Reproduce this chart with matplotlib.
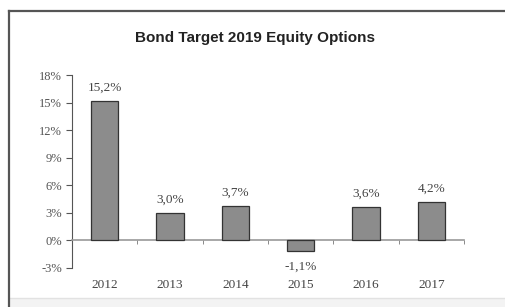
import matplotlib
matplotlib.use('Agg')
import matplotlib.pyplot as plt
from matplotlib.lines import Line2D
from matplotlib.patches import Rectangle

years = ['2012', '2013', '2014', '2015', '2016', '2017']
returns = [15.2, 3.0, 3.7, -1.1, 3.6, 4.2]
yticks = [-3, 0, 3, 6, 9, 12, 15, 18]

W, H = 506, 307
fig = plt.figure(figsize=(W / 100, H / 100), dpi=100)
fig.patch.set_facecolor('white')

# outer chart frame: top and left edges, faint strip at the bottom
ftop = 1 - 10.5 / H
fleft = 9 / W
fig.add_artist(Rectangle((fleft, 0), 1 - fleft, 9 / H, transform=fig.transFigure,
                         facecolor='#f3f3f3', edgecolor='none'))
fig.add_artist(Line2D([fleft, 1.0], [9 / H, 9 / H], transform=fig.transFigure, color='#e2e2e2', lw=1.0))
fig.add_artist(Line2D([fleft, 1.0], [ftop, ftop], transform=fig.transFigure, color='#555555', lw=1.6))
fig.add_artist(Line2D([fleft, fleft], [0.0, ftop], transform=fig.transFigure, color='#555555', lw=1.6))

ax = fig.add_axes([72 / W, 1 - 268 / H, 392 / W, 193 / H])
x = list(range(len(years)))
ax.bar(x, returns, width=0.42, color='#8c8c8c', edgecolor='#333333', linewidth=0.9, zorder=3)

for xi, v in zip(x, returns):
    txt = f'{v:.1f}%'.replace('.', ',')
    if v >= 0:
        ax.text(xi, v + 0.8, txt, ha='center', va='bottom',
                family='Liberation Serif', fontsize=9.5, color='#444444')
    else:
        ax.text(xi, v - 1.1, txt, ha='center', va='top',
                family='Liberation Serif', fontsize=9.5, color='#444444')

ax.set_xlim(-0.5, 5.5)
ax.set_ylim(-3, 18)
ax.set_yticks(yticks)
ax.set_yticklabels([f'{t}%' for t in yticks], family='Liberation Serif', fontsize=9, color='#555555')

ax.spines['top'].set_visible(False)
ax.spines['right'].set_visible(False)
ax.spines['left'].set_color('#555555')
ax.spines['bottom'].set_position(('data', 0))
ax.spines['bottom'].set_color('#999999')
ax.spines['bottom'].set_linewidth(1.2)

ax.set_xticks(x)
ax.set_xticklabels(years, family='Liberation Serif', fontsize=9.5, color='#444444')
ax.set_xticks([i + 0.5 for i in range(-1, 6)], minor=True)
ax.tick_params(axis='x', which='major', length=0, pad=28)
ax.tick_params(axis='x', which='minor', length=3, color='#777777', direction='out')
ax.tick_params(axis='y', length=4, color='#555555', width=0.8, pad=3)

fig.text(255 / W, 1 - 38 / H, 'Bond Target 2019 Equity Options', ha='center', va='center',
         family='Liberation Sans', fontweight='bold', fontsize=11, color='#222222')

fig.savefig('out.png', dpi=100)
